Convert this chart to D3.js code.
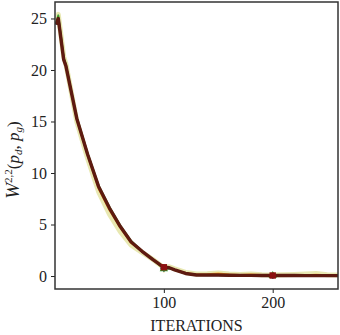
<!DOCTYPE html>
<html>
<head>
<meta charset="utf-8">
<script src="https://cdn.jsdelivr.net/npm/d3@7"></script>
<style>
  body { margin: 0; background: #fff; }
</style>
</head>
<body>
<svg width="340" height="335"></svg>
<script>
// iterations at which every run was logged
var iters = [1, 3, 8, 10, 20, 30, 40, 50, 60, 70, 80, 90, 100, 105, 110, 120, 130, 140, 150, 160, 170, 180, 190, 200, 210, 220, 230, 240, 250, 260];

var runKhaki  = [24.6, 25.4, 21.3, 20.6, 15.0, 11.4, 8.2, 6.0, 4.3, 3.0, 2.3, 1.6, 0.8, 0.9, 0.7, 0.35, 0.2, 0.22, 0.3, 0.2, 0.15, 0.2, 0.12, 0.1, 0.12, 0.15, 0.2, 0.25, 0.12, 0.1];
var runOrange = [24.5, 25.2, 21.1, 20.5, 15.2, 11.7, 8.5, 6.4, 4.7, 3.2, 2.4, 1.6, 0.7, 0.8, 0.6, 0.3, 0.15, 0.18, 0.25, 0.15, 0.1, 0.15, 0.1, 0.05, 0.1, 0.1, 0.08, 0.12, 0.08, 0.06];
var runBlue   = [24.4, 25.1, 21.0, 20.4, 15.3, 11.8, 8.7, 6.6, 4.8, 3.3, 2.4, 1.6, 0.75, 0.75, 0.6, 0.25, 0.1, 0.08, 0.08, 0.06, 0.05, 0.06, 0.05, 0.05, 0.05, 0.05, 0.04, 0.05, 0.04, 0.04];
var runGreen  = [24.5, 25.3, 21.2, 20.5, 15.4, 11.9, 8.8, 6.7, 4.9, 3.4, 2.4, 1.6, 0.7, 0.75, 0.6, 0.25, 0.1, 0.1, 0.1, 0.08, 0.06, 0.07, 0.05, 0.03, 0.05, 0.05, 0.04, 0.05, 0.05, 0.04];
var runRed    = [24.4, 25.0, 21.0, 20.4, 15.3, 11.8, 8.7, 6.6, 4.8, 3.3, 2.4, 1.6, 0.85, 0.8, 0.6, 0.25, 0.1, 0.1, 0.1, 0.08, 0.06, 0.06, 0.05, 0.05, 0.05, 0.05, 0.04, 0.04, 0.04, 0.04];

var xTicks = [100, 200];
var yTicks = [0, 5, 10, 15, 20, 25];

var runs = [
    {values: runKhaki,  color: "#bcbd22", width: 5,   opacity: 0.35, marker: "none"},
    {values: runOrange, color: "#ff9f0e", width: 2,   opacity: 0.9,  marker: "plus"},
    {values: runBlue,   color: "#1f77b4", width: 2,   opacity: 0.9,  marker: "plus"},
    {values: runGreen,  color: "#2ca02c", width: 2,   opacity: 0.9,  marker: "tri"},
    {values: runRed,    color: "#5e1a10", width: 3.4, opacity: 1,    marker: "square"}
];

var serif = "'Liberation Serif', 'DejaVu Serif', serif";

var svg = d3.select("svg"),
    margin = {top: 2, right: 2, bottom: 46, left: 55},
    width = 340 - margin.left - margin.right,
    height = 335 - margin.top - margin.bottom,
    g = svg.append("g").attr("transform", "translate(" + margin.left + "," + margin.top + ")");

var x = d3.scaleLinear().domain([0, 260]).range([0, width]);
var y = d3.scaleLinear().domain([-1.26, 26.6]).range([height, 0]);

var line = d3.line()
    .x(function(d) { return x(d.it); })
    .y(function(d) { return y(d.v); });

var plot = g.append("g");
plot.append("clipPath").attr("id", "clip")
    .append("rect").attr("width", width).attr("height", height);

runs.forEach(function(r) {
    var pts = iters.map(function(it, i) { return {it: it, v: r.values[i]}; });
    plot.append("path")
        .datum(pts)
        .attr("clip-path", "url(#clip)")
        .attr("fill", "none")
        .attr("stroke", r.color)
        .attr("stroke-width", r.width)
        .attr("stroke-opacity", r.opacity)
        .attr("stroke-linejoin", "round")
        .attr("d", line);

    var marks = pts.filter(function(d) { return d.it % 100 === 0; });
    marks.forEach(function(d) {
        var cx = x(d.it), cy = y(d.v);
        if (r.marker === "plus") {
            plot.append("path")
                .attr("d", "M" + (cx - 3.5) + "," + cy + "h7M" + cx + "," + (cy - 3.5) + "v7")
                .attr("stroke", r.color).attr("stroke-width", 1.5);
        } else if (r.marker === "tri") {
            plot.append("path")
                .attr("d", d3.symbol().type(d3.symbolTriangle).size(30)())
                .attr("transform", "translate(" + cx + "," + cy + ")")
                .attr("fill", r.color);
        } else if (r.marker === "square") {
            plot.append("rect")
                .attr("x", cx - 3.2).attr("y", cy - 3.2)
                .attr("width", 6.4).attr("height", 6.4)
                .attr("fill", "#8b1010");
        }
    });
});

// axes
var xAxis = g.append("g")
    .attr("transform", "translate(0," + height + ")")
    .call(d3.axisBottom(x).tickValues(xTicks).tickSize(4).tickPadding(4));
var yAxis = g.append("g")
    .call(d3.axisLeft(y).tickValues(yTicks).tickSize(4).tickPadding(4));

[xAxis, yAxis].forEach(function(a) {
    a.attr("font-family", serif);
    a.select(".domain").remove();
    a.selectAll("line").attr("stroke", "#222").attr("stroke-width", 1);
    a.selectAll("text")
        .attr("font-size", 16)
        .attr("fill", "#222");
});

g.append("rect")
    .attr("width", width).attr("height", height)
    .attr("fill", "none")
    .attr("stroke", "#333")
    .attr("stroke-width", 1.5);

svg.append("text")
    .attr("x", margin.left + width / 2)
    .attr("y", 331)
    .attr("text-anchor", "middle")
    .attr("font-family", serif)
    .attr("font-size", 16)
    .attr("fill", "#222")
    .text("ITERATIONS");

var yl = svg.append("text")
    .attr("transform", "translate(19,160) rotate(-90)")
    .attr("text-anchor", "middle")
    .attr("font-family", serif)
    .attr("font-size", 17)
    .attr("fill", "#222");
yl.append("tspan").attr("font-style", "italic").attr("font-size", 19).text("W");
yl.append("tspan").attr("font-size", 11).attr("dy", -7).text("2,2");
yl.append("tspan").attr("dy", 7).text("(");
yl.append("tspan").attr("font-style", "italic").text("p");
yl.append("tspan").attr("font-style", "italic").attr("font-size", 11).attr("dy", 3).text("d");
yl.append("tspan").attr("dy", -3).text(", ");
yl.append("tspan").attr("font-style", "italic").text("p");
yl.append("tspan").attr("font-style", "italic").attr("font-size", 11).attr("dy", 3).text("g");
yl.append("tspan").attr("dy", -3).text(")");
</script>
</body>
</html>
